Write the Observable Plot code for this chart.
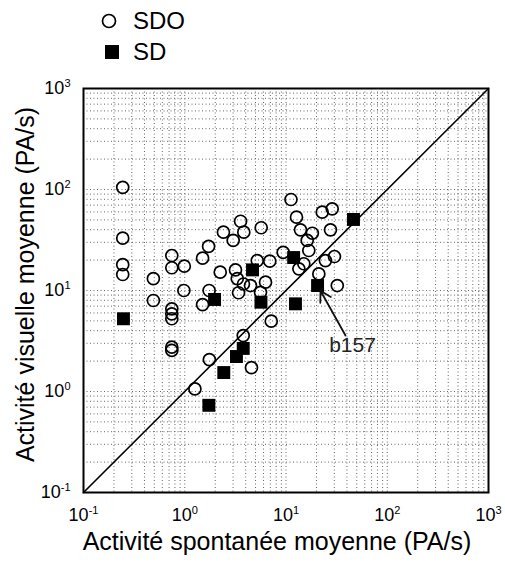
<!DOCTYPE html>
<html><head><meta charset="utf-8">
<script src="https://cdn.jsdelivr.net/npm/d3@7"></script>
<script src="https://cdn.jsdelivr.net/npm/@observablehq/plot@0.6"></script>
<style>
body{margin:0;background:#fff;font-family:"Liberation Sans",Arial,sans-serif;}
#legend{height:70px;position:relative;width:505px;}
.item{position:absolute;left:100px;display:flex;align-items:center;font-size:24px;height:30px;color:#000;}
.item svg{margin-right:13px;}
</style></head><body>
<div id="legend"></div>
<div id="chart"></div>
<script>
// ---- data ----
const seriesNames = ["SDO", "SD"];
const sdoX = [0.244,0.244,0.244,0.244,0.49,0.745,0.745,0.99,1.50,1.72,2.24,2.41,0.98,1.74,
  11.2,12.7,22.8,28.6,27.5,13.9,18.2,16.2,16.8,3.56,3.83,3.01,5.69,9.38,5.2,6.92,3.17,3.30,6.28,
  13.4,15.0,24.5,30.1,21.1,32.1,3.80,4.46,0.49,0.745,0.745,0.745,0.745,0.745,1.50,1.75,1.26,7.15,3.78,4.56,3.4,5.6];
const sdoY = [105,33,18,14.4,13.1,22.2,16.8,17.4,20.9,27.3,15.2,37.8,10.0,10.0,
  79.6,53.2,59.6,64.4,39.9,39.9,36.9,31.3,24.9,48.5,37.8,31.3,41.8,23.9,19.8,19.5,16.0,13.1,12.1,
  16.4,18.4,19.8,21.7,14.6,11.2,11.6,11.2,7.96,6.59,5.87,5.25,2.75,2.55,7.26,2.07,1.06,4.97,3.58,1.72,9.5,9.6];
const sdX = [0.248,1.97,4.67,5.66,11.9,12.4,20.5,46.4,3.78,3.24,2.43,1.73];
const sdY = [5.25,8.15,16.0,7.66,21.2,7.38,11.2,50.5,2.67,2.22,1.54,0.73];
const decades = [0.1, 1, 10, 100, 1000];
const identity = [0.1, 1000];
const annotation = {label: "b157", x: 20.5, y: 11.2, tailX: 38.7, tailY: 3.58, textX: 45.4, textY: 2.85};
const xTitle = "Activité spontanée moyenne (PA/s)";
const yTitle = "Activité visuelle moyenne (PA/s)";

const sdo = sdoX.map((x, i) => ({x, y: sdoY[i]}));
const sd = sdX.map((x, i) => ({x, y: sdY[i]}));
const gridVals = [];
for (let i = 0; i < decades.length - 1; i++) for (let k = 1; k <= 9; k++) gridVals.push(decades[i] * k);
gridVals.push(decades[decades.length - 1]);
const idLine = identity.map(v => ({x: v, y: v}));

// ---- legend (HTML, above the chart) ----
const legend = d3.select("#legend");
[["circle", 21], ["square", 52]].forEach(([sym, cy], i) => {
  const it = legend.append("div").attr("class", "item").style("top", (cy - 15) + "px");
  const s = it.append("svg").attr("width", 20).attr("height", 20);
  if (sym === "circle") s.append("circle").attr("cx", 9).attr("cy", 10).attr("r", 6.5).attr("fill", "none").attr("stroke", "#000").attr("stroke-width", 1.7);
  else s.append("rect").attr("x", 5).attr("y", 3).attr("width", 14).attr("height", 14).attr("fill", "#000");
  it.append("span").text(seriesNames[i]);
});

// ---- chart ----
const fmt = d => "10^" + Math.round(Math.log10(d));
const chart = Plot.plot({
  width: 505, height: 495,
  marginTop: 18, marginLeft: 83, marginRight: 17, marginBottom: 73,
  style: {fontFamily: "Liberation Sans, Arial, sans-serif", background: "#fff", color: "#000"},
  x: {type: "log", domain: [0.1, 1000], axis: null},
  y: {type: "log", domain: [0.1, 1000], axis: null},
  marks: [
    Plot.ruleX(gridVals, {stroke: "#666", strokeWidth: 1, strokeDasharray: "1,2.5"}),
    Plot.ruleY(gridVals, {stroke: "#666", strokeWidth: 1, strokeDasharray: "1,2.5"}),
    Plot.axisX(decades, {tickFormat: fmt, tickSize: 0, tickPadding: 16, fontSize: 18, label: null}),
    Plot.axisY(decades, {tickFormat: fmt, tickSize: 0, tickPadding: 13, fontSize: 18, label: null}),
    Plot.line(idLine, {x: "x", y: "y", stroke: "#000", strokeWidth: 1.6}),
    Plot.dot(sdo, {x: "x", y: "y", r: 6, stroke: "#000", strokeWidth: 1.7, fill: "none"}),
    Plot.dot(sd, {x: "x", y: "y", r: 7.3, symbol: "square", fill: "#000", stroke: "none"}),
    Plot.arrow([annotation], {x1: "tailX", y1: "tailY", x2: "x", y2: "y", stroke: "#111", strokeWidth: 1.8, headLength: 10, insetEnd: 6}),
    Plot.text([annotation], {x: "textX", y: "textY", text: "label", fontSize: 21, fill: "#222"}),
    Plot.text([xTitle], {frameAnchor: "bottom", textAnchor: "middle", dy: 57, dx: -9, fontSize: 25}),
    Plot.text([yTitle], {frameAnchor: "left", textAnchor: "middle", rotate: -90, dx: -58, dy: -6, fontSize: 25}),
    Plot.frame({stroke: "#000", strokeWidth: 2})
  ]
});
document.getElementById("chart").appendChild(chart);

// superscript exponents on tick labels
d3.select(chart).selectAll("text").each(function() {
  const m = this.textContent.match(/^10\^(-?\d+)$/);
  if (!m) return;
  const t = d3.select(this);
  t.text("");
  t.append("tspan").text("10");
  t.append("tspan").attr("font-size", 11).attr("dy", -7).text(m[1]);
});
</script>
</body></html>
